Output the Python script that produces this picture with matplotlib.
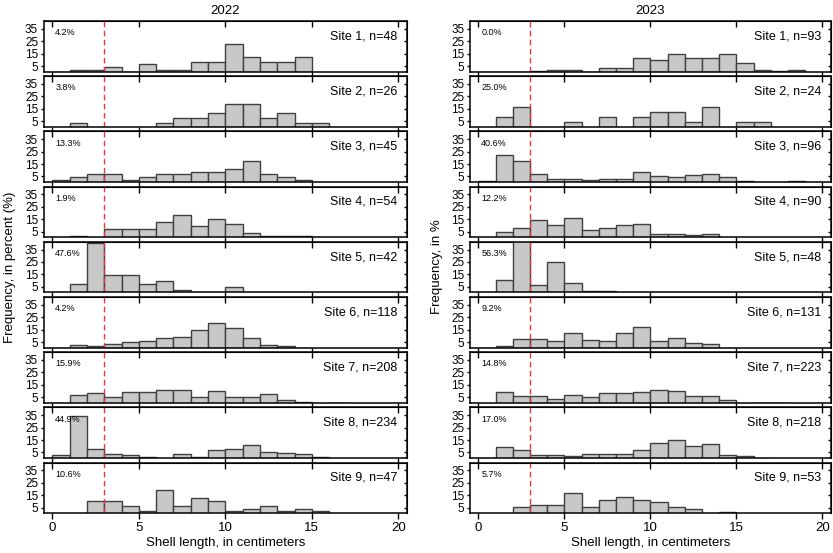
import numpy as np
import matplotlib
matplotlib.use('Agg')
import matplotlib.pyplot as plt

plt.rcParams['font.family'] = ['Liberation Sans', 'DejaVu Sans']

# percent frequency per 1-cm shell-length bin (bin i = i..i+1 cm)
freq_2022 = [
    [0, 2.1, 2.1, 4.2, 0, 6.3, 2.1, 2.1, 8.3, 8.3, 22.9, 12.5, 8.3, 8.3, 12.5],
    [0, 3.8, 0, 0, 0, 0, 3.8, 7.7, 7.7, 11.5, 19.2, 19.2, 7.7, 11.5, 3.8, 3.8],
    [2.2, 4.4, 6.7, 6.7, 2.2, 4.4, 6.7, 6.7, 8.9, 8.9, 11.1, 17.8, 6.7, 4.4, 2.2],
    [0, 1.9, 0, 7.4, 7.4, 7.4, 13.0, 18.5, 9.3, 14.8, 11.1, 3.7, 1.9, 1.9, 1.9],
    [0, 7.1, 40.5, 14.3, 14.3, 7.1, 9.5, 2.4, 0, 0, 4.8],
    [0, 2.5, 1.7, 3.4, 5.1, 5.9, 8.5, 9.3, 14.4, 20.3, 16.1, 8.5, 2.5, 1.7],
    [0.5, 7.2, 8.2, 5.0, 9.6, 9.6, 10.6, 10.6, 5.3, 10.1, 5.3, 5.3, 7.7, 2.9, 1.0, 0, 0.5],
    [2.6, 34.2, 8.1, 3.4, 2.6, 1.3, 0, 3.8, 1.7, 7.3, 8.1, 10.7, 5.6, 4.7, 3.8, 1.3],
    [0, 0, 10.6, 10.6, 6.4, 2.1, 19.1, 6.4, 12.8, 10.6, 2.1, 4.3, 6.4, 2.1, 4.3, 2.1],
]
freq_2023 = [
    [0, 0, 0, 1.1, 2.2, 2.2, 0, 3.2, 3.2, 11.8, 9.7, 15.1, 11.8, 11.8, 15.1, 7.5, 2.2, 1.1, 2.2],
    [0, 8.3, 16.7, 0, 0, 4.2, 0, 8.3, 0, 8.3, 12.5, 12.5, 4.2, 16.7, 0, 4.2, 4.2],
    [1.0, 21.9, 17.7, 7.3, 3.1, 3.1, 2.1, 3.1, 3.1, 8.3, 5.2, 4.2, 6.3, 7.3, 4.2, 1.0, 0, 0, 1.0],
    [0, 4.4, 7.8, 14.4, 10.0, 15.6, 6.7, 7.8, 10.0, 11.1, 3.3, 3.3, 2.2, 3.3],
    [0, 10.4, 45.8, 6.3, 25.0, 8.3, 2.1, 2.1],
    [0, 1.5, 7.6, 7.6, 6.1, 12.2, 6.9, 6.1, 12.2, 16.8, 6.1, 8.4, 4.6, 3.8],
    [0, 9.0, 5.8, 6.3, 3.6, 7.2, 4.9, 8.1, 8.5, 9.4, 10.8, 10.3, 5.8, 6.3, 3.1, 0, 0.4, 0.4],
    [0.5, 9.6, 6.9, 2.8, 2.8, 2.3, 4.1, 3.7, 4.1, 6.9, 12.8, 15.1, 10.6, 11.5, 3.2, 2.3, 0.9],
    [0, 0, 5.7, 7.5, 7.5, 17.0, 5.7, 11.3, 13.2, 11.3, 9.4, 5.7, 3.8, 0, 1.9],
]
n_2022 = [48, 26, 45, 54, 42, 118, 208, 234, 47]
n_2023 = [93, 24, 96, 90, 48, 131, 223, 218, 53]
below_2022 = [4.2, 3.8, 13.3, 1.9, 47.6, 4.2, 15.9, 44.9, 10.6]
below_2023 = [0.0, 25.0, 40.6, 12.2, 56.3, 9.2, 14.8, 17.0, 5.7]
cutoff = 3
xticks = [0, 5, 10, 15, 20]
yticks = [5, 15, 25, 35]

fig = plt.figure(figsize=(8.33, 5.53), dpi=100)
gkw = dict(top=0.962, bottom=0.0718, hspace=0.089)
gs_left = fig.add_gridspec(9, 1, left=0.0524, right=0.4886, **gkw)
gs_right = fig.add_gridspec(9, 1, left=0.5639, right=0.9975, **gkw)


def draw_year(gs, freqs, ns, below):
    for i in range(9):
        ax = fig.add_subplot(gs[i])
        vals = freqs[i]
        ax.bar(np.arange(len(vals)), vals, width=1, align='edge',
               color='#c8c8c8', edgecolor='#404040', linewidth=1.0)
        ax.axvline(cutoff, color='#e8383d', ls=(0, (4, 2.5)), lw=1.0)
        ax.set_xlim(-0.5, 20.5)
        ax.set_ylim(0.5, 41.2)
        ax.set_xticks(xticks)
        ax.set_yticks(yticks)
        ax.tick_params(direction='out', labelsize=8.5, width=1)
        ax.tick_params(axis='y', length=2.5, pad=1.5)
        ax.tick_params(axis='x', length=4, pad=2, labelsize=9.5)
        if i < 8:
            ax.set_xticklabels([])
        for s in ax.spines.values():
            s.set_linewidth(1.1)
        top = ax.secondary_xaxis('top')
        top.set_xticks(xticks)
        top.set_xticklabels([])
        top.tick_params(direction='in', length=4, width=1)
        right = ax.secondary_yaxis('right')
        right.set_yticks(yticks)
        right.set_yticklabels([])
        right.tick_params(direction='in', length=2.5, width=1)
        ax.text(0.032, 0.77, f'{below[i]:.1f}%', transform=ax.transAxes,
                fontsize=6.5, va='center', ha='left')
        ax.text(0.973, 0.70, f'Site {i + 1}, n={ns[i]}', transform=ax.transAxes,
                fontsize=9, va='center', ha='right')


draw_year(gs_left, freq_2022, n_2022, below_2022)
draw_year(gs_right, freq_2023, n_2023, below_2023)

fig.text(0.2705, 0.981, '2022', ha='center', va='center', fontsize=9.5)
fig.text(0.7807, 0.981, '2023', ha='center', va='center', fontsize=9.5)
fig.text(0.2705, 0.018, 'Shell length, in centimeters', ha='center', va='center', fontsize=9.5)
fig.text(0.7807, 0.018, 'Shell length, in centimeters', ha='center', va='center', fontsize=9.5)
fig.text(0.012, 0.517, 'Frequency, in percent (%)', rotation=90, ha='center', va='center', fontsize=9.5)
fig.text(0.5246, 0.517, 'Frequency, in %', rotation=90, ha='center', va='center', fontsize=9.5)

fig.savefig('out.png', dpi=100)
